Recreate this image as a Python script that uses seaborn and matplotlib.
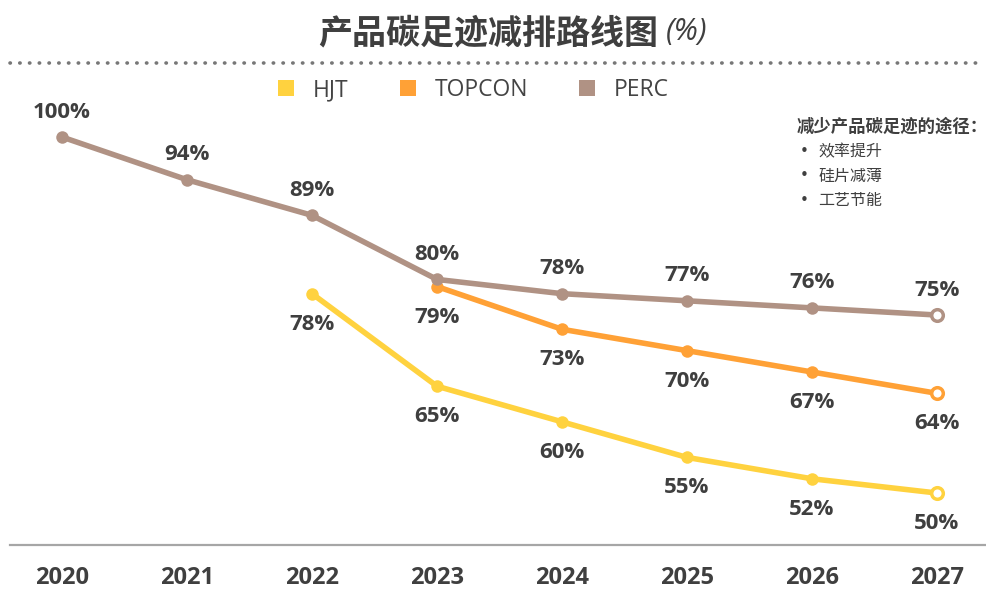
import matplotlib
matplotlib.use("Agg")
import matplotlib.pyplot as plt
import seaborn as sns
import pandas as pd
from matplotlib.lines import Line2D

years = ["2020", "2021", "2022", "2023", "2024", "2025", "2026", "2027"]
hjt_years = ["2022", "2023", "2024", "2025", "2026", "2027"]
hjt = [78, 65, 60, 55, 52, 50]
topcon_years = ["2023", "2024", "2025", "2026", "2027"]
topcon = [79, 73, 70, 67, 64]
perc_years = years
perc = [100, 94, 89, 80, 78, 77, 76, 75]
series_names = ["HJT", "TOPCON", "PERC"]
colors = {"HJT": "#FFD23F", "TOPCON": "#FFA136", "PERC": "#B09284"}
title = "产品碳足迹减排路线图"
note_title = "减少产品碳足迹的途径："
note_items = ["效率提升", "硅片减薄", "工艺节能"]

rows = []
for name, ys, vs in [("HJT", hjt_years, hjt), ("TOPCON", topcon_years, topcon), ("PERC", perc_years, perc)]:
    for y, v in zip(ys, vs):
        rows.append({"year": years.index(y), "value": v, "series": name})
df = pd.DataFrame(rows)

sns.set_theme(style="white")
plt.rcParams['font.family'] = ['Open Sans', 'Noto Sans CJK SC', 'DejaVu Sans']
TXT = "#3f3f3f"

fig = plt.figure(figsize=(9.87, 5.91), dpi=100)
ax = fig.add_axes([10/987, 1-545/591, 1-10/987, (545-100)/591])

sns.lineplot(data=df, x="year", y="value", hue="series", hue_order=series_names,
             palette=colors, linewidth=4.0, marker="o", markersize=9,
             markeredgewidth=0, legend=False, ax=ax, solid_capstyle="round")

# hollow end markers
for name, ys, vs in [("HJT", hjt_years, hjt), ("TOPCON", topcon_years, topcon), ("PERC", perc_years, perc)]:
    ax.scatter([years.index(ys[-1])], [vs[-1]], s=70, facecolor="white",
               edgecolor=colors[name], linewidth=2.5, zorder=5)

# labels
lab_kw = dict(ha="center", va="center", fontsize=16, fontweight="bold", color=TXT,
              family=["Open Sans", "DejaVu Sans"], textcoords="offset points")
for y, v in zip(perc_years, perc):
    ax.annotate(f"{v}%", (years.index(y), v), xytext=(0, 18), **lab_kw)
for ys, vs in [(hjt_years, hjt), (topcon_years, topcon)]:
    for y, v in zip(ys, vs):
        ax.annotate(f"{v}%", (years.index(y), v), xytext=(0, -22), **lab_kw)

ax.set_xlim(-0.416, 7.4)
ax.set_ylim(42.7, 105.2)
ax.set_xticks(range(len(years)))
ax.set_xticklabels(years, fontsize=17, fontweight="bold", color=TXT,
                   family=["Open Sans", "DejaVu Sans"])
ax.tick_params(axis="x", length=0, pad=15)
ax.set_yticks([])
ax.set_xlabel("")
ax.set_ylabel("")
for s in ["top", "right", "left"]:
    ax.spines[s].set_visible(False)
ax.spines["bottom"].set_color("#a6a6a6")
ax.spines["bottom"].set_linewidth(1.6)

# title
fig.text(318/987, 1-33/591, title, ha="left", va="center", fontsize=24.5, fontweight="bold",
         color=TXT, family=["Noto Sans CJK SC"])
fig.text(666/987, 1-32/591, "(%)", ha="left", va="center", fontsize=22, style="italic",
         color=TXT, family=["Open Sans", "DejaVu Sans"])
# dotted line
fig.add_artist(Line2D([10/987, 985/987], [1-63/591, 1-63/591], transform=fig.transFigure,
                      color="#777777", linestyle=(0, (0.1, 2.6)), linewidth=2.6,
                      solid_capstyle="round", dash_capstyle="round"))

# legend
handles = [Line2D([0], [0], marker="s", linestyle="none", markersize=12,
                  markerfacecolor=colors[n], markeredgewidth=0) for n in series_names]
fig.legend(handles, series_names, loc="center", bbox_to_anchor=(0.477, 1-90/591), ncol=3,
           frameon=False, labelcolor="#444444", columnspacing=2.0, handlelength=1.2,
           handletextpad=0.55, prop={"family": ["Open Sans", "DejaVu Sans"], "size": 16.5})

# note
fig.text(797/987, 1-127/591, note_title, ha="left", va="center", fontsize=12.5,
         fontweight="bold", color=TXT, family=["Noto Sans CJK SC"])
for i, item in enumerate(note_items):
    yy = 1-(152+24*i)/591
    fig.text(800/987, yy, "•", ha="left", va="center", fontsize=11, color=TXT,
             family=["DejaVu Sans"])
    fig.text(818/987, yy, item, ha="left", va="center", fontsize=11.5, color=TXT,
             family=["Noto Sans CJK SC"])

fig.savefig("out.png", dpi=100, facecolor="white")
